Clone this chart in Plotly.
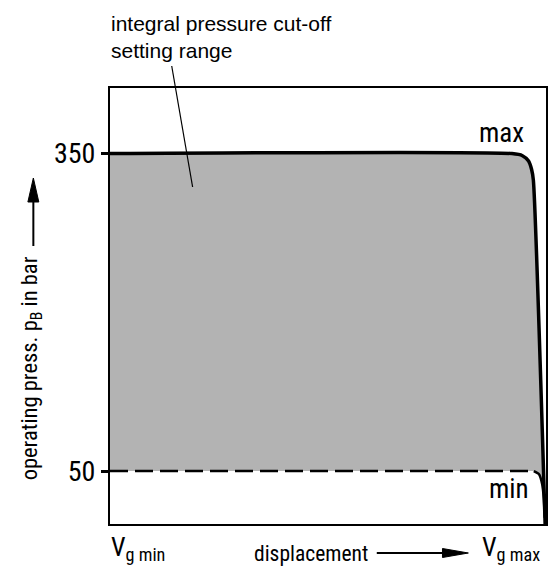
import plotly.graph_objects as go

# Operating pressure limits over the displacement range (x: 0 = Vg min, 1 = Vg max)
max_x = [0.0, 0.922, 0.946, 0.960, 0.967, 0.971, 0.998]
max_y = [350, 350, 348, 343, 335, 325, 0]

min_x = [0.0, 0.972]
min_y = [50, 50]
min_corner_x = [0.972, 0.984, 0.991, 0.995, 0.997]
min_corner_y = [50, 47, 38, 24, 6]

tick_vals = [50, 350]
tick_text = ["50", "350"]

NARROW = "Liberation Sans Narrow, Arial Narrow, Roboto Condensed, DejaVu Sans Condensed, sans-serif"
REGULAR = "Liberation Sans, Arial, Helvetica, sans-serif"

W, H = 551, 569
L, R, T, B = 110, 3, 88, 45
PW, PH = W - L - R, H - T - B


def px(xp):
    return (xp - L) / PW


def py(yp):
    return (H - B - yp) / PH


fig = go.Figure()

# shaded setting range between the upper and lower limit curves
band_x = max_x + min_corner_x[::-1] + min_x[::-1]
band_y = max_y + min_corner_y[::-1] + min_y[::-1]
fig.add_trace(go.Scatter(x=band_x, y=band_y, fill="toself", fillcolor="#b3b3b3",
                         line=dict(width=0), mode="lines", hoverinfo="skip"))

# upper limit (max)
fig.add_trace(go.Scatter(x=max_x, y=max_y, mode="lines", line_shape="spline",
                         line=dict(color="black", width=3.5, smoothing=0.6)))
# lower limit (min): dashed level, solid knee
fig.add_trace(go.Scatter(x=min_x, y=min_y, mode="lines",
                         line=dict(color="black", width=2.5, dash="18px,7px")))
fig.add_trace(go.Scatter(x=min_corner_x, y=min_corner_y, mode="lines", line_shape="spline",
                         line=dict(color="black", width=2.5, smoothing=0.6)))

shapes = []
# leader line from the range label into the shaded area
shapes.append(dict(type="line", xref="paper", yref="paper",
                   x0=px(172), y0=py(66), x1=px(193), y1=py(187),
                   line=dict(color="black", width=1.2)))
# vertical axis arrow
shapes.append(dict(type="line", xref="paper", yref="paper",
                   x0=px(33), y0=py(246), x1=px(33), y1=py(198),
                   line=dict(color="black", width=2)))
shapes.append(dict(type="path", xref="paper", yref="paper",
                   path=f"M {px(33)} {py(178)} L {px(27.5)} {py(202)} L {px(38.5)} {py(202)} Z",
                   fillcolor="black", line=dict(color="black", width=1)))
# horizontal axis arrow
shapes.append(dict(type="line", xref="paper", yref="paper",
                   x0=px(378), y0=py(553), x1=px(450), y1=py(553),
                   line=dict(color="black", width=2)))
shapes.append(dict(type="path", xref="paper", yref="paper",
                   path=f"M {px(470)} {py(553)} L {px(444)} {py(548.5)} L {px(444)} {py(557.5)} Z",
                   fillcolor="black", line=dict(color="black", width=1)))


def note(text, x, y, xanchor, yanchor, family, size, **kw):
    return dict(text=text, xref="paper", yref="paper", x=x, y=y,
                xanchor=xanchor, yanchor=yanchor, showarrow=False,
                font=dict(family=family, size=size, color="black"), **kw)


annotations = [
    note("integral pressure cut-off<br>setting range", px(109), py(10), "left", "top",
         REGULAR, 21, align="left"),
    note("max", px(528), py(133), "right", "middle", NARROW, 27),
    note("min", px(533), py(489), "right", "middle", NARROW, 27),
    note("operating press. p<sub>B</sub> in bar", px(31), py(368), "center", "middle",
         NARROW, 22.5, textangle=-90),
    note("displacement", px(312), py(553), "center", "middle", NARROW, 21.5),
    note("V<sub>g min</sub>", px(109), py(548), "left", "middle", NARROW, 26),
    note("V<sub>g max</sub>", px(482), py(548), "left", "middle", NARROW, 26),
]

fig.update_layout(
    width=W, height=H,
    margin=dict(l=L, r=R, t=T, b=B),
    paper_bgcolor="white", plot_bgcolor="white",
    showlegend=False,
    shapes=shapes,
    annotations=annotations,
    xaxis=dict(range=[0, 1], showgrid=False, zeroline=False, showticklabels=False,
               ticks="", showline=True, mirror=True, linecolor="black", linewidth=2),
    yaxis=dict(range=[0, 412], showgrid=False, zeroline=False,
               tickvals=tick_vals, ticktext=tick_text, ticks="outside", ticklen=7,
               tickwidth=3, tickcolor="black",
               tickfont=dict(family=NARROW, size=28, color="black"),
               showline=True, mirror=True, linecolor="black", linewidth=2),
)

fig.write_html("out.html")
